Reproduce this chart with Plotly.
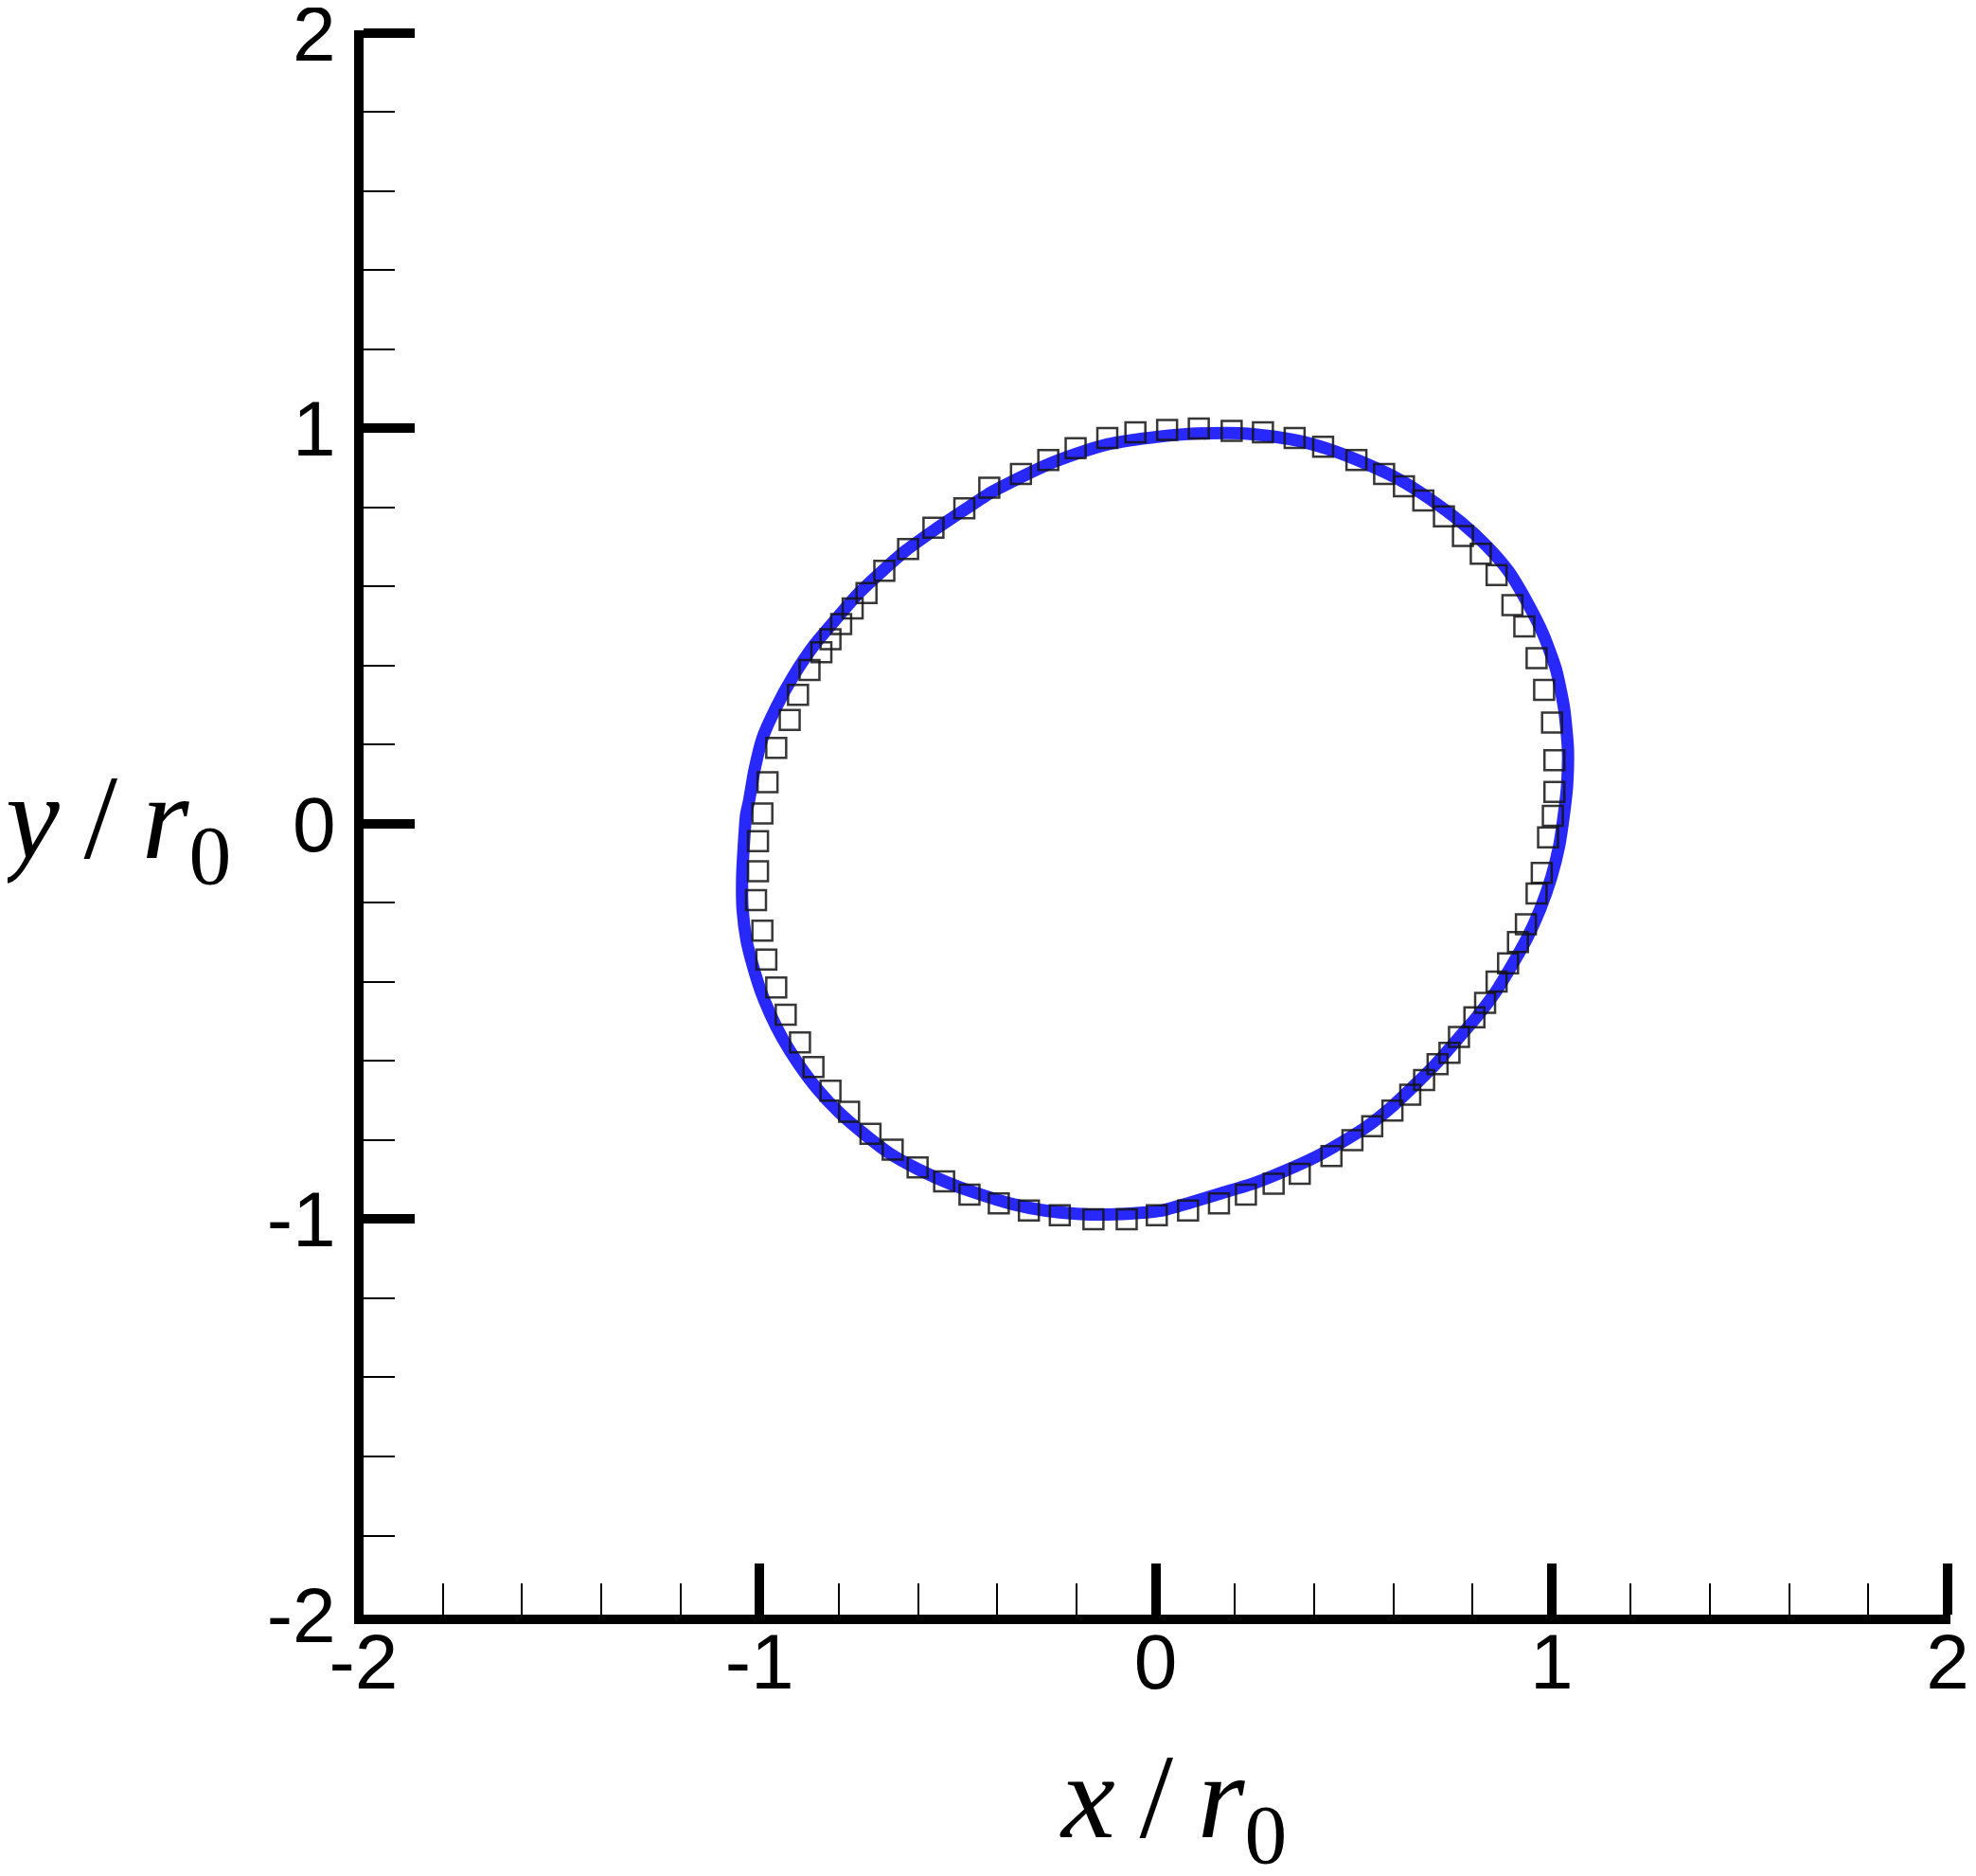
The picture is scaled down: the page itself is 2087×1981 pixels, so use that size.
import plotly.graph_objects as go

# squares (reference solution), read clockwise from the left side
sq_x = [-0.993, -0.980, -0.958, -0.924, -0.903, -0.874, -0.844, -0.821, -0.794, -0.765, -0.730,
        -0.685, -0.625, -0.561, -0.483, -0.420, -0.340, -0.271, -0.202, -0.122, -0.051,
        0.029, 0.109, 0.192, 0.271, 0.351, 0.423, 0.507, 0.577, 0.627, 0.676, 0.728,
        0.776, 0.821, 0.861, 0.901, 0.931, 0.962, 0.981, 1.001, 1.007, 1.007, 1.003,
        0.991, 0.975, 0.962, 0.935, 0.915, 0.890, 0.861, 0.832, 0.805, 0.766, 0.742,
        0.712, 0.678, 0.643, 0.598, 0.547, 0.497, 0.444, 0.364, 0.298, 0.228, 0.160,
        0.082, 0.003,
        -0.073, -0.157, -0.242, -0.320, -0.396, -0.470, -0.534, -0.601, -0.664, -0.720,
        -0.774, -0.821, -0.864, -0.898, -0.934, -0.958, -0.983, -0.993, -1.009, -1.004, -1.004]
sq_y = [0.026, 0.105, 0.192, 0.263, 0.326, 0.389, 0.434, 0.467, 0.505, 0.545, 0.584,
        0.640, 0.695, 0.749, 0.798, 0.850, 0.885, 0.920, 0.950, 0.976, 0.990,
        0.996, 1.000, 0.994, 0.990, 0.976, 0.954, 0.920, 0.885, 0.854, 0.818, 0.778,
        0.728, 0.683, 0.629, 0.553, 0.499, 0.419, 0.339, 0.256, 0.161, 0.081, 0.020,
        -0.034, -0.124, -0.176, -0.254, -0.299, -0.353, -0.399, -0.453, -0.489, -0.539, -0.579,
        -0.608, -0.648, -0.685, -0.725, -0.765, -0.800, -0.840, -0.885, -0.910, -0.938, -0.960,
        -0.978, -0.990,
        -1.000, -1.000, -0.990, -0.978, -0.960, -0.938, -0.904, -0.869, -0.824, -0.784,
        -0.728, -0.675, -0.615, -0.553, -0.483, -0.414, -0.343, -0.270, -0.193, -0.120, -0.044]

# computed interface (blue line), clockwise, closed
line_x = [-1.034, -1.027, -1.013, -0.993, -0.958, -0.914, -0.860, -0.806, -0.750,
          -0.695, -0.631, -0.559, -0.483, -0.416, -0.340, -0.272, -0.200, -0.121, -0.049,
          0.023, 0.055, 0.134, 0.214, 0.294, 0.373, 0.453, 0.533, 0.613, 0.692, 0.772,
          0.836, 0.891, 0.939, 0.979, 1.011, 1.031, 1.041, 1.039,
          1.031, 1.019, 0.999, 0.971, 0.939, 0.899, 0.860, 0.812, 0.764, 0.708, 0.652,
          0.597, 0.533, 0.469, 0.405, 0.326, 0.246, 0.166, 0.087, 0.015,
          -0.041, -0.121, -0.200, -0.280, -0.360, -0.440, -0.519, -0.599, -0.671, -0.734,
          -0.798, -0.854, -0.902, -0.942, -0.974, -0.997, -1.017, -1.033, -1.043, -1.044,
          -1.040, -1.034]
line_y = [0.024, 0.056, 0.136, 0.216, 0.295, 0.375, 0.455, 0.519, 0.583,
          0.635, 0.691, 0.743, 0.794, 0.838, 0.877, 0.909, 0.936, 0.960, 0.972,
          0.981, 0.984, 0.988, 0.988, 0.980, 0.966, 0.942, 0.910, 0.872, 0.822, 0.762,
          0.703, 0.639, 0.559, 0.479, 0.391, 0.295, 0.192, 0.096,
          0.024, -0.056, -0.136, -0.216, -0.287, -0.359, -0.423, -0.487, -0.543, -0.607, -0.663,
          -0.715, -0.766, -0.806, -0.842, -0.878, -0.910, -0.934, -0.958, -0.978,
          -0.984, -0.988, -0.986, -0.978, -0.962, -0.938, -0.910, -0.874, -0.834, -0.786,
          -0.731, -0.671, -0.607, -0.543, -0.479, -0.423, -0.359, -0.295, -0.216, -0.136,
          -0.056, 0.024]

tick_vals = [-2, -1, 0, 1, 2]
tick_text = ['-2', '-1', '0', '1', '2']
minor_vals = [-1.8, -1.6, -1.4, -1.2, -0.8, -0.6, -0.4, -0.2,
              0.2, 0.4, 0.6, 0.8, 1.2, 1.4, 1.6, 1.8]

fig = go.Figure()
fig.add_trace(go.Scatter(x=line_x, y=line_y, mode='lines',
                         line=dict(color='rgb(40,40,250)', width=13, shape='spline', smoothing=0.6)))
fig.add_trace(go.Scatter(x=sq_x, y=sq_y, mode='markers',
                         marker=dict(symbol='square-open', size=21,
                                     color='rgba(20,20,20,0.85)',
                                     line=dict(width=2.5))))

axis_style = dict(
    range=[-2, 2.007], automargin=False,
    tickmode='array', tickvals=tick_vals, ticktext=tick_text,
    ticks='inside', ticklen=54, tickwidth=10, tickcolor='black',
    minor=dict(tickmode='array', tickvals=minor_vals, ticks='inside',
               ticklen=33, tickwidth=2, tickcolor='black', showgrid=False),
    showline=True, linewidth=10, linecolor='black',
    showgrid=False, zeroline=False, ticklabeloverflow='allow',
    tickfont=dict(family='Liberation Sans', size=82, color='black'),
)
fig.update_xaxes(**axis_style, ticklabelstandoff=-30)
fig.update_yaxes(**axis_style, ticklabelstandoff=3)

title_font = dict(family="'Liberation Serif', 'DejaVu Serif', serif", size=128, color='black')
fig.add_annotation(text='<i>x</i>\u2009/\u2009<i>r</i><sub>0</sub>', xref='paper', yref='paper',
                   x=0.510, y=-0.120, xanchor='center', yanchor='middle',
                   showarrow=False, font=title_font)
fig.add_annotation(text='<i>y</i>\u2009/\u2009<i>r</i><sub>0</sub>', xref='paper', yref='paper',
                   x=-0.158, y=0.498, xanchor='center', yanchor='middle',
                   showarrow=False, font=title_font)

# page body keeps its default 8px margin, so the figure is 8px smaller
fig.update_layout(template='none', width=2079, height=1973,
                  margin=dict(l=376, r=27, t=24, b=276, autoexpand=False),
                  plot_bgcolor='white', paper_bgcolor='white',
                  showlegend=False)

fig.write_html('out.html')
